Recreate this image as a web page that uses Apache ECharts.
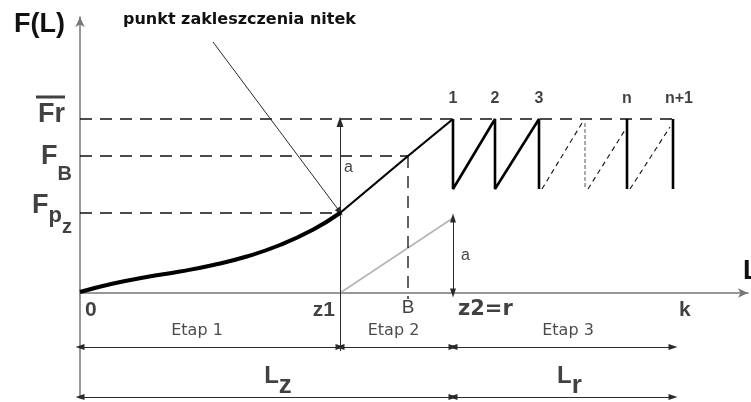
<!DOCTYPE html>
<html><head><meta charset="utf-8">
<script src="https://cdn.jsdelivr.net/npm/echarts@6/dist/echarts.min.js"></script>
<style>html,body{margin:0;padding:0;background:#fff}#c{width:751px;height:402px}</style>
</head><body><div id="c"></div>
<script>
// ---------- data (schematic units) ----------
const curveStage1 = [[0,0.1],[3.33,0.95],[6.67,1.6],[10,2.15],[13.33,2.8],[16.67,3.65],[20,4.8],[23.33,6.35],[26,8.0]];
const curveStage2 = [[26,8.0],[32.8,13.7],[37.3,17.4]];
const levelNames = ['Fr','FB','Fpz'];
const levelValues = [17.4, 13.7, 8.0];
const xMarkNames = ['0','z1','B','z2=r','k'];
const xMarkValues = [0, 26, 32.8, 37.3, 59.3];
const sawBottom = 10.4;
const peakNames = ['1','2','3','n','n+1'];
const peakX = [37.3, 41.5, 45.9, 54.7, 59.3];
const dashedRises = [[[46.2,10.4],[50.2,17.0]], [[50.8,10.4],[54.5,16.3]], [[55.0,10.4],[59.0,16.6]]];
const grayDrop = [[50.5,17.0],[50.5,10.4]];
const grayLine = [[26,0],[37.3,7.5]];
const aArrowZ1 = [8.0, 17.1];
const aArrowZ2 = [0, 7.5];
const leader = [[13.3,25.1],[26,8.1]];
const stageNames = ['Etap 1','Etap 2','Etap 3'];
const stageBounds = [0, 26, 37.3, 59.3];
const lengthNames = ['Lz','Lr'];
const lengthBounds = [0, 37.3, 59.3];

// ---------- layout / styles ----------
const FR = levelValues[0], FB = levelValues[1], FPZ = levelValues[2];
const Z1 = xMarkValues[1], BX = xMarkValues[2], Z2 = xMarkValues[3], K = xMarkValues[4];
const etapRowY = -5.4, lengthRowY = -10.4;
const AR = "'Liberation Sans', Arial, sans-serif";
const DJ = "'DejaVu Sans', sans-serif";
const INK = '#111';

const line = (data, ls, extra) => Object.assign({
  type:'line', data, symbol:'none', silent:true, animation:false, clip:false, z:3,
  lineStyle: Object.assign({color:INK, width:1}, ls)
}, extra || {});

const series = [];
series.push(line(curveStage1, {width:4, color:'#000'}, {smooth:0.5, z:6}));
series.push(line(curveStage2, {width:2.2, color:'#000'}, {z:6}));
series.push(line(grayLine, {color:'#b4b4b4', width:1.6}));
// reference dashed lines
const levelEnds = [K, BX, Z1];
levelValues.forEach((v,i) => series.push(line([[0,v],[levelEnds[i],v]], {type:[12,8], width:1.3})));
series.push(line([[BX,FB],[BX,-0.6]], {type:[12,8], width:1.3}));
// sawtooth solid
const saw = [];
for (let i=0;i<3;i++){ saw.push([peakX[i],FR],[peakX[i],sawBottom]); }
series.push(line(saw, {width:2.6, color:'#000'}, {z:6}));
[3,4].forEach(i => series.push(line([[peakX[i],FR],[peakX[i],sawBottom]], {width:2.6, color:'#000'}, {z:6})));
dashedRises.forEach(d => series.push(line(d, {type:[5,4], width:1.1})));
series.push(line(grayDrop, {type:[4,2], width:2, color:'#aaaaaa'}));

// arrows & thin lines via markLine
const S = [6,9];
const seg = (p1, p2, s1, s2, size) => [
  {coord:p1, symbol:s1, symbolSize:size||S},
  {coord:p2, symbol:s2, symbolSize:size||S}
];
const mlData = [
  seg([Z1, etapRowY-0.4],[Z1, aArrowZ1[0]], 'none','none'),
  seg([Z1, aArrowZ1[0]],[Z1, aArrowZ1[1]], 'none','triangle',[7,10]),
  seg([Z2, lengthRowY-0.2],[Z2, sawBottom], 'none','none'),
  seg([Z2, aArrowZ2[0]],[Z2, aArrowZ2[1]], 'triangle','triangle',[6,9]),
  seg([K, lengthRowY-0.2],[K, sawBottom], 'none','none'),
  seg(leader[0], leader[1], 'none','triangle',[6,9])
];
for (let i=0;i<stageNames.length;i++) mlData.push(seg([stageBounds[i],etapRowY],[stageBounds[i+1],etapRowY],'triangle','triangle'));
for (let i=0;i<lengthNames.length;i++) mlData.push(seg([lengthBounds[i],lengthRowY],[lengthBounds[i+1],lengthRowY],'triangle','triangle'));

// labels
const labelItems = [];
function addLabel(x, y, text, st){
  labelItems.push({value:[x,y], label:Object.assign({show:true, position:'inside', color:INK, formatter:()=>text}, st)});
}
const bigF = {fontFamily:AR, fontSize:27, fontWeight:'bold', color:INK, lineHeight:28};
const levelText = {
  Fr: ['{ol| }\n{F|Fr}', {offset:[-15,-8], rich:{ol:{width:29,height:3,backgroundColor:INK,fontSize:2,lineHeight:7}, F:bigF}}],
  FB: ['{F|F}{s|B}', {offset:[-8,1], rich:{F:bigF, s:{fontFamily:AR,fontSize:20,fontWeight:'bold',color:INK,padding:[35,0,0,0]}}}],
  Fpz:['{F|F}{p|p}{z|z}', {offset:[-8,-7], rich:{F:bigF, p:{fontFamily:AR,fontSize:22,fontWeight:'bold',color:INK,padding:[20,0,0,0]}, z:{fontFamily:AR,fontSize:20,fontWeight:'bold',color:INK,padding:[42,0,0,0]}}}]
};
levelNames.forEach((n,i) => {
  const t = levelText[n];
  addLabel(0, levelValues[i], t[0], Object.assign({align:'right', verticalAlign:'middle'}, t[1]));
});
const xStyles = {
  '0':   {align:'left', offset:[5,17], fontFamily:AR, fontSize:21, fontWeight:'bold'},
  'z1':  {align:'right', offset:[-5,17], fontFamily:AR, fontSize:21, fontWeight:'bold'},
  'B':   {align:'center', offset:[0,15], fontFamily:AR, fontSize:19},
  'z2=r':{align:'left', offset:[5,17], fontFamily:DJ, fontSize:21, fontWeight:'bold'},
  'k':   {align:'left', offset:[6,17], fontFamily:AR, fontSize:21, fontWeight:'bold'}
};
xMarkNames.forEach((n,i) => addLabel(xMarkValues[i], 0, n, Object.assign({verticalAlign:'middle'}, xStyles[n])));
const peakOff = [0,0,0,0,6];
peakNames.forEach((n,i) => addLabel(peakX[i], FR, n, {align:'center', verticalAlign:'middle', offset:[peakOff[i],-20], fontFamily:AR, fontSize:16, fontWeight:'bold'}));
addLabel(Z1, (aArrowZ1[0]+aArrowZ1[1])/2, 'a', {align:'left', verticalAlign:'middle', offset:[4,0], fontFamily:AR, fontSize:16});
addLabel(Z2, (aArrowZ2[0]+aArrowZ2[1])/2, 'a', {align:'left', verticalAlign:'middle', offset:[8,0], fontFamily:AR, fontSize:16});
const stageOff = [-13,-3,5];
stageNames.forEach((n,i) => addLabel((stageBounds[i]+stageBounds[i+1])/2, etapRowY, n, {align:'center', verticalAlign:'middle', offset:[stageOff[i],-16], fontFamily:DJ, fontSize:16, color:'#1a1a1a'}));
const lenOff = [11.5, 6.5];
lengthNames.forEach((n,i) => addLabel((lengthBounds[i]+lengthBounds[i+1])/2, lengthRowY, '{L|'+n[0]+'}{s|'+n.slice(1)+'}',
  {align:'center', verticalAlign:'middle', offset:[lenOff[i],-20.5],
   rich:{L:{fontFamily:AR,fontSize:24,fontWeight:'bold',color:INK}, s:{fontFamily:AR,fontSize:26,fontWeight:'bold',color:INK,padding:[18,0,0,0]}}}));

series.push({
  type:'scatter', data:labelItems, symbolSize:1, itemStyle:{color:'rgba(0,0,0,0)'}, silent:true, animation:false, clip:false, z:10,
  markLine:{silent:true, animation:false, symbol:['none','none'], label:{show:false}, emphasis:{disabled:true},
    lineStyle:{type:'solid', color:'#2a2a2a', width:1}, itemStyle:{color:'#111'}, data:mlData}
});

const chart = echarts.init(document.getElementById('c'), null, {renderer:'canvas'});
chart.setOption({
  backgroundColor:'#fff',
  animation:false,
  title:{text:'punkt zakleszczenia nitek', left:123, top:12, padding:0,
    textStyle:{fontFamily:DJ, fontSize:16, fontWeight:'bold', color:INK}},
  grid:{left:80, right:3, top:17, bottom:4, containLabel:false, outerBoundsMode:'none'},
  xAxis:{type:'value', min:0, max:66.8, name:'L', nameLocation:'end', nameGap:-5,
    nameTextStyle:{fontFamily:AR, fontSize:27, fontWeight:'bold', color:INK, align:'left', verticalAlign:'bottom', padding:[0,0,8,0]},
    axisLine:{show:true, onZero:true, symbol:['none','arrow'], symbolSize:[7,10], lineStyle:{color:'#777', width:1.5}},
    axisTick:{show:false}, axisLabel:{show:false}, splitLine:{show:false}},
  yAxis:{type:'value', min:-10.5, max:27.6, name:'F(L)', nameLocation:'end', nameGap:-8,
    nameTextStyle:{fontFamily:AR, fontSize:27, fontWeight:'bold', color:INK, align:'right', verticalAlign:'middle', padding:[0,15,0,0]},
    axisLine:{show:true, symbol:['none','arrow'], symbolSize:[7,10], lineStyle:{color:'#777', width:1.5}},
    axisTick:{show:false}, axisLabel:{show:false}, splitLine:{show:false}},
  series
});
</script></body></html>
